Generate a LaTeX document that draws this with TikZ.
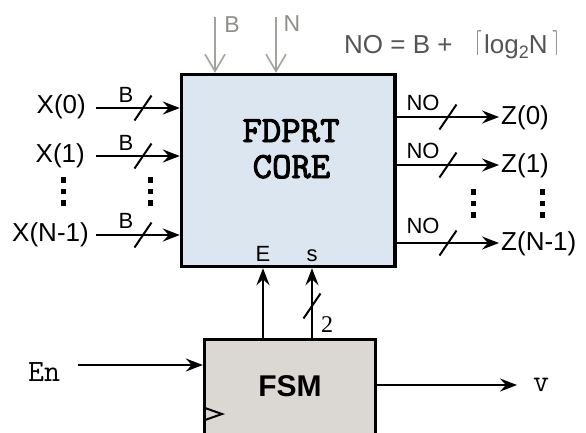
\documentclass[tikz,border=0pt]{standalone}
\usepackage{fontspec}
\setmainfont{Liberation Sans}
\newfontfamily\seriffont{Liberation Serif}
\newfontfamily\boldtt{lmmono10-regular}[Extension=.otf, FakeBold=2.5]
\usetikzlibrary{arrows.meta,calc}
\definecolor{coreblue}{HTML}{DCE6F1}
\definecolor{fsmgray}{HTML}{DBD8D3}
\definecolor{lightarrow}{HTML}{A3A39D}
\definecolor{lighttext}{HTML}{8E8E8A}
\definecolor{formulagray}{HTML}{555555}
\tikzset{
  pics/busmark/.style={code={\draw[line width=2pt] (-8.5,12.5) -- (8.5,-12.5);}},
  pics/vdots/.style={code={\foreach \d in {0,11.5,23} \fill (-2.5,\d-2.8) rectangle (2.5,\d+2.8);}}
}
\begin{document}
\begin{tikzpicture}[x=1pt,y=-1pt,
  box/.style={draw=black, line width=3.4pt, inner sep=0pt},
  arr/.style={line width=2.4pt, -{Stealth[length=17pt,width=13pt,inset=6pt]}},
  garr/.style={draw=lightarrow, line width=1.6pt, -{Straight Barb[length=17pt,width=20pt]}},
  lbl/.style={font=\fontsize{26}{30}\selectfont, inner sep=0pt},
  blbl/.style={font=\fontsize{22}{25}\selectfont, inner sep=0pt, anchor=base},
  glbl/.style={font=\fontsize{23}{26}\selectfont, text=lighttext, inner sep=0pt},
  coretxt/.style={font=\fontsize{37}{40}\boldtt, inner sep=0pt, anchor=base},
  ttlbl/.style={font=\fontsize{31}{34}\selectfont\ttfamily, inner sep=0pt, anchor=base}
]
\useasboundingbox (0,0) rectangle (586,432);

% boxes
\node[box, fill=coreblue, minimum width=213.5pt, minimum height=192pt] (core) at (288.25,170.5) {};
\node[box, fill=fsmgray, minimum width=171pt, minimum height=97pt] (fsm) at (290,388) {};
\node[coretxt] (t1) at (291,142) {FDPRT};
\node[coretxt] (t2) at (291.5,178) {CORE};
\node[font=\fontsize{30}{34}\selectfont\bfseries, inner sep=0pt] (fsmtxt) at (290,386) {FSM};
\draw[line width=2pt] (205,408) -- (222,414) -- (205,420);

% gray top inputs
\coordinate (gb) at (215,17);
\coordinate (gn) at (276,17);
\draw[garr] (gb) -- (core.north -| gb);
\draw[garr] (gn) -- (core.north -| gn);
\node[glbl] (lb) at (232,25) {B};
\node[glbl] (ln) at (292,24) {N};
\node[font=\fontsize{26}{30}\selectfont, text=formulagray, inner sep=0pt, anchor=base west] (formula) at (344,53)
  {NO = B +\hspace{22pt}\makebox[9.5pt][l]{\raisebox{4pt}{\scalebox{0.65}[1]{\fontsize{33}{33}\selectfont$\lceil$}}}log\raisebox{-5pt}{\fontsize{18}{18}\selectfont 2}N\hspace{12pt}\makebox[0pt][r]{\raisebox{4pt}{\scalebox{0.65}[1]{\fontsize{33}{33}\selectfont$\rceil$}}}};

% inputs
\node[lbl, anchor=east] (x0) at (86,107) {X(0)};
\node[lbl, anchor=east] (x1) at (85,156) {X(1)};
\node[lbl, anchor=east] (xn) at (89,235) {X(N-1)};
\coordinate (x0s) at (96,108);
\coordinate (x1s) at (96,156);
\coordinate (xns) at (96,235);
\draw[arr] (x0s) -- (core.west |- x0s);
\draw[arr] (x1s) -- (core.west |- x1s);
\draw[arr] (xns) -- (core.west |- xns);
\pic at (143,108) {busmark};
\pic at (143,156) {busmark};
\pic at (143,235) {busmark};
\node[blbl] (b0) at (126,102) {B};
\node[blbl] (b1) at (126,150) {B};
\node[blbl] (bn) at (126,228) {B};
\pic at (63,180) {vdots};
\pic at (150,180) {vdots};

% outputs
\node[lbl, anchor=west] (z0) at (501,117.5) {Z(0)};
\node[lbl, anchor=west] (z1) at (501,165.5) {Z(1)};
\node[lbl, anchor=west] (zn) at (501,243.5) {Z(N-1)};
\coordinate (z0e) at (499,117);
\coordinate (z1e) at (499,165);
\coordinate (zne) at (499,243);
\draw[arr] (core.east |- z0e) -- (z0e);
\draw[arr] (core.east |- z1e) -- (z1e);
\draw[arr] (core.east |- zne) -- (zne);
\pic at (448,117) {busmark};
\pic at (448,165) {busmark};
\pic at (448,243) {busmark};
\node[blbl] (n0) at (423,110) {NO};
\node[blbl] (n1) at (423,158) {NO};
\node[blbl] (nn) at (423,233) {NO};
\pic at (473,192) {vdots};
\pic at (542,192) {vdots};

% FSM to core
\coordinate (ep) at (263,0);
\coordinate (sp) at (312,0);
\draw[arr] (fsm.north -| ep) -- (core.south -| ep);
\draw[arr] (fsm.north -| sp) -- (core.south -| sp);
\node[blbl] (le) at (263,261) {E};
\node[blbl] (ls) at (312,261) {s};
\pic at (312,306) {busmark};
\node[font=\fontsize{24}{28}\seriffont, inner sep=0pt, anchor=base] (two) at (327,332) {2};

% FSM in/out
\node[ttlbl] (en) at (44,381) {En};
\coordinate (ens) at (78,365);
\draw[arr] (ens) -- (fsm.west |- ens);
\node[ttlbl] (vv) at (541,391) {v};
\coordinate (ve) at (517,385);
\draw[arr] (fsm.east |- ve) -- (ve);
\end{tikzpicture}
\end{document}
